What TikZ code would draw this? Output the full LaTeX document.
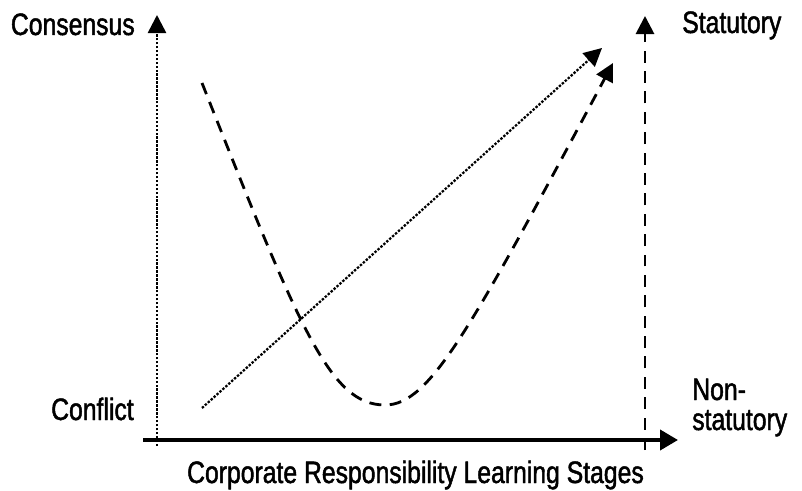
\documentclass[tikz,border=0pt]{standalone}
\usepackage{fontspec}
\setmainfont{Liberation Sans}[FakeStretch=0.8, FakeBold=1.5]
\usetikzlibrary{arrows.meta, positioning}

\begin{document}
\begin{tikzpicture}[x=0.025cm, y=-0.025cm, line join=round,
		lbl/.style={font=\fontsize{22}{30}\selectfont, inner sep=0pt},
		tip/.style={-{Triangle[length=0.45cm, width=0.45cm]}},
		dotline/.style={line width=1.8pt, dash pattern=on 1.7pt off 1.1pt},
		dashline/.style={line width=2pt, dash pattern=on 8.5pt off 6pt}]
	\useasboundingbox (0,0) rectangle (802,491);
	
	% axis end points
	\coordinate (xstart) at (143,440);
	\coordinate (xend) at (678,440);
	\coordinate (lbot) at (157,446);
	\coordinate (ltop) at (157,15);
	\coordinate (rbot) at (645,450);
	\coordinate (rtop) at (645,16);
	
	% --- axes ---
	\draw[-{Triangle[length=0.45cm, width=0.5cm]}, line width=2.8pt] (xstart) -- (xend);
	\draw[dotline, tip] (lbot) -- (ltop);
	\draw[dashline, tip] (rbot) -- (rtop);
	
	% --- labels ---
	\node[lbl, anchor=base east] (consensus) at (135,35) {Consensus};
	\node[lbl, anchor=base west] (statutory) at (682,33) {Statutory};
	\node[lbl, anchor=base east] (conflict) at (134,420) {Conflict};
	\node[lbl, anchor=base west] (non) at (692,400) {Non-};
	\node[lbl, anchor=base west] (nonstat) at (692,430) {statutory};
	\node[lbl, anchor=base] (stages) at (415.5,483) {Corporate Responsibility Learning Stages};
	
	% --- curves ---
	\coordinate (dotstart) at (202,408);
	\coordinate (dotend) at (602,48);
	\draw[dotline, line width=1.6pt, tip] (dotstart) -- (dotend);
	
	\coordinate (curvestart) at (202,83);
	\coordinate (curvemin) at (385,405);
	\coordinate (curveend) at (613,63);
	\draw[dashline, tip] (curvestart) .. controls (300,330) and (330,405) .. (curvemin)
		.. controls (430,405) and (470,330) .. (curveend);
\end{tikzpicture}
\end{document}
